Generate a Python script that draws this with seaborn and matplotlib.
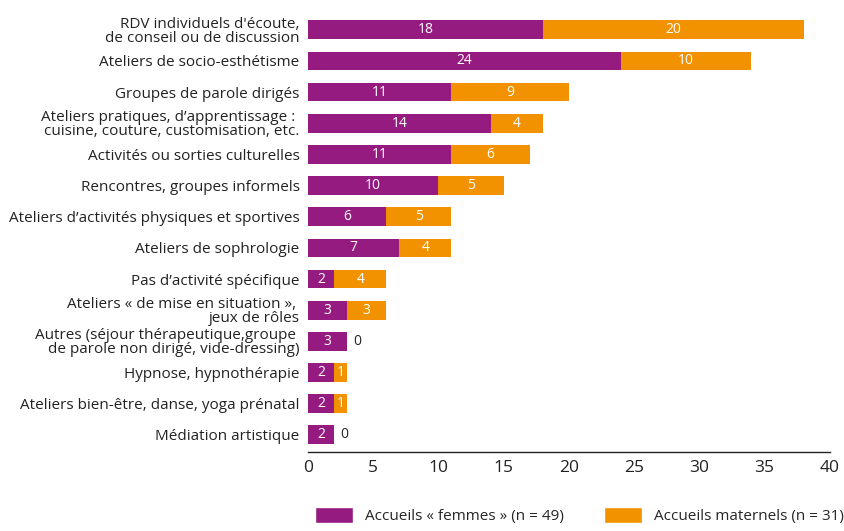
"""
Activités proposées : barres horizontales empilées (accueils femmes / maternels)
"""
import matplotlib
matplotlib.use('Agg')
import matplotlib.pyplot as plt
import seaborn as sns
import pandas as pd
from matplotlib.patches import Patch

categories = [
    "RDV individuels d'écoute,\nde conseil ou de discussion",
    "Ateliers de socio-esthétisme",
    "Groupes de parole dirigés",
    "Ateliers pratiques, d\u2019apprentissage : \ncuisine, couture, customisation, etc.",
    "Activités ou sorties culturelles",
    "Rencontres, groupes informels",
    "Ateliers d\u2019activités physiques et sportives",
    "Ateliers de sophrologie",
    "Pas d\u2019activité spécifique",
    "Ateliers « de mise en situation », \njeux de rôles",
    "Autres (séjour thérapeutique,groupe \nde parole non dirigé, vide-dressing)",
    "Hypnose, hypnothérapie",
    "Ateliers bien-être, danse, yoga prénatal",
    "Médiation artistique",
]
femmes = [18, 24, 11, 14, 11, 10, 6, 7, 2, 3, 3, 2, 2, 2]
maternels = [20, 10, 9, 4, 6, 5, 5, 4, 4, 3, 0, 1, 1, 0]
series_labels = ["Accueils « femmes » (n = 49)", "Accueils maternels (n = 31)"]
x_ticks = [0, 5, 10, 15, 20, 25, 30, 35, 40]

PURPLE = '#951B81'
ORANGE = '#F39200'
TEXT = '#222222'

sns.set_theme(style='white')
plt.rcParams['font.family'] = ['Open Sans', 'DejaVu Sans']

df = pd.DataFrame({'cat': categories, 'femmes': femmes, 'maternels': maternels})
df['total'] = df['femmes'] + df['maternels']

fig = plt.figure(figsize=(8.44, 5.31), dpi=100)
ax = fig.add_axes([0.365, 0.149, 0.618, 0.83])

# total en orange derrière, femmes en violet par-dessus
sns.barplot(data=df, x='total', y='cat', color=ORANGE, orient='h', width=0.6,
            saturation=1, linewidth=0, ax=ax)
sns.barplot(data=df, x='femmes', y='cat', color=PURPLE, orient='h', width=0.6,
            saturation=1, linewidth=0, ax=ax)

for i, (f, m) in enumerate(zip(femmes, maternels)):
    ax.text(f / 2, i, str(f), color='white', ha='center', va='center', fontsize=10)
    if m > 0:
        ax.text(f + m / 2, i, str(m), color='white', ha='center', va='center', fontsize=10)
    else:
        ax.text(f + 0.45, i, '0', color=TEXT, ha='left', va='center', fontsize=10)

ax.set_xlim(0, 40)
ax.set_ylim(13.55, -0.6)
ax.set_xticks(x_ticks)
ax.set_xticklabels([str(t) for t in x_ticks], fontsize=12.5, color=TEXT)
ax.tick_params(axis='x', direction='in', length=5, width=1, color=TEXT, pad=6)
ax.tick_params(axis='y', length=0, pad=6, labelsize=11, labelcolor=TEXT)
ax.set_xlabel('')
ax.set_ylabel('')
for s in ['top', 'right', 'left']:
    ax.spines[s].set_visible(False)
ax.spines['bottom'].set_color(TEXT)
ax.spines['bottom'].set_linewidth(1)
for lbl in ax.get_yticklabels():
    lbl.set_multialignment('right')
    lbl.set_linespacing(0.9)

handles = [Patch(facecolor=PURPLE), Patch(facecolor=ORANGE)]
fig.legend(handles, series_labels, loc='lower left', bbox_to_anchor=(0.362, -0.004),
           ncol=2, frameon=False, fontsize=11, handlelength=2.5, handleheight=1.2,
           columnspacing=2.6, handletextpad=0.8, borderaxespad=0.2)

fig.savefig('out.png', dpi=100)
plt.close(fig)
